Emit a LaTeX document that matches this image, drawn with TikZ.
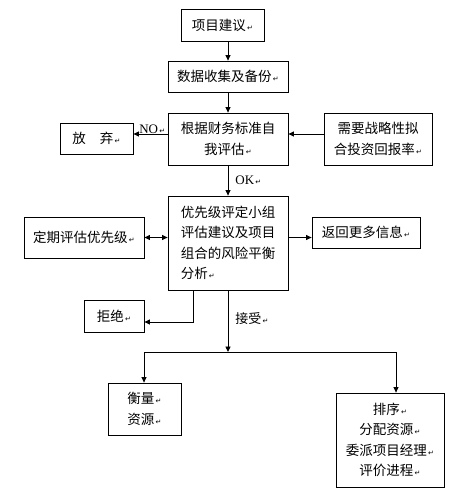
\documentclass[tikz,border=0pt]{standalone}
\usepackage{fontspec}
\setmainfont{Liberation Serif}
\newfontfamily\cjk{Noto Sans CJK SC}
\newfontfamily\symfont{DejaVu Sans}
\usetikzlibrary{arrows.meta,positioning,calc}
\newcommand\pmark{{\symfont\fontsize{7}{7}\selectfont\,↵}}

\begin{document}
\begin{tikzpicture}[x=1pt, y=-1pt,
  box/.style={draw, line width=0.8pt, inner sep=0pt, align=center,
              font=\cjk\fontsize{13.5}{20.5}\selectfont},
  arr/.style={line width=0.9pt, -{Triangle[length=5.5pt,width=5pt]}},
  tag/.style={inner sep=1pt, font=\fontsize{13}{15}\selectfont}]
  \useasboundingbox (0,0) rectangle (462,492);
  % main column
  \node[box, minimum width=83, minimum height=32] (idea) at (222.5,25) {项目建议\pmark};
  \node[box, minimum width=120, minimum height=31] (data) at (228,76.5) {数据收集及备份\pmark};
  \node[box, minimum width=120, minimum height=52] (fin) at (228,139) {根据财务标准自\\我评估\pmark};
  \node[box, minimum width=120, minimum height=94, align=left] (panel) at (228,243)
       {优先级评定小组\\评估建议及项目\\组合的风险平衡\\分析\pmark};
  % side boxes
  \node[box, minimum width=73, minimum height=31] (quit) at (96.5,138.5) {放\hspace{14pt}弃\pmark};
  \node[box, minimum width=108, minimum height=52] (strat) at (378,139) {需要战略性拟\\合投资回报率\pmark};
  \node[box, minimum width=120, minimum height=41] (review) at (84,237.5) {定期评估优先级\pmark};
  \node[box, minimum width=108, minimum height=31] (more) at (366,232.5) {返回更多信息\pmark};
  \node[box, minimum width=60, minimum height=32] (reject) at (114,316) {拒绝\pmark};
  % outcome boxes
  \node[box, minimum width=73, minimum height=52] (weigh) at (144.5,409) {衡量\pmark\\资源\pmark};
  \node[box, minimum width=108, minimum height=94] (assign) at (390,440)
       {排序\pmark\\分配资源\pmark\\委派项目经理\pmark\\评价进程\pmark};

  \coordinate (split) at (228,352);
  \coordinate (lft) at (144,352);
  \coordinate (rgt) at (396,352);
  \coordinate (turn) at (193,322);

  \draw[arr] (idea.south -| data.north) -- (data.north);
  \draw[arr] (data) -- (fin);
  \draw[arr] (fin.west |- 0,134) -- (quit.east |- 0,134)
       node[tag, pos=0.45, above=-1pt] (no) {NO\pmark};
  \draw[arr] (strat.west |- 0,134) -- (fin.east |- 0,134);
  \draw[arr] (fin) -- (panel) node[tag, pos=0.5, right=6pt] (ok) {OK\pmark};
  \draw[line width=0.9pt, {Triangle[length=5.5pt,width=5pt]}-{Triangle[length=5.5pt,width=5pt]}]
       (review.east) -- (panel.west |- review);
  \draw[arr] (panel.east |- review) -- (more.west |- review);
  \draw[arr] (panel.south -| turn) -- (turn) -- (reject.east |- turn);
  \draw[arr] (panel.south) -- (split) node[pos=0.45, right=6pt, inner sep=1pt,
       font=\cjk\fontsize{13}{15}\selectfont] (yes) {接受\pmark};
  \draw[line width=0.9pt] (lft) -- (rgt);
  \draw[arr] (lft) -- (weigh.north -| lft);
  \draw[arr] (rgt) -- (assign.north -| rgt);
\end{tikzpicture}
\end{document}
